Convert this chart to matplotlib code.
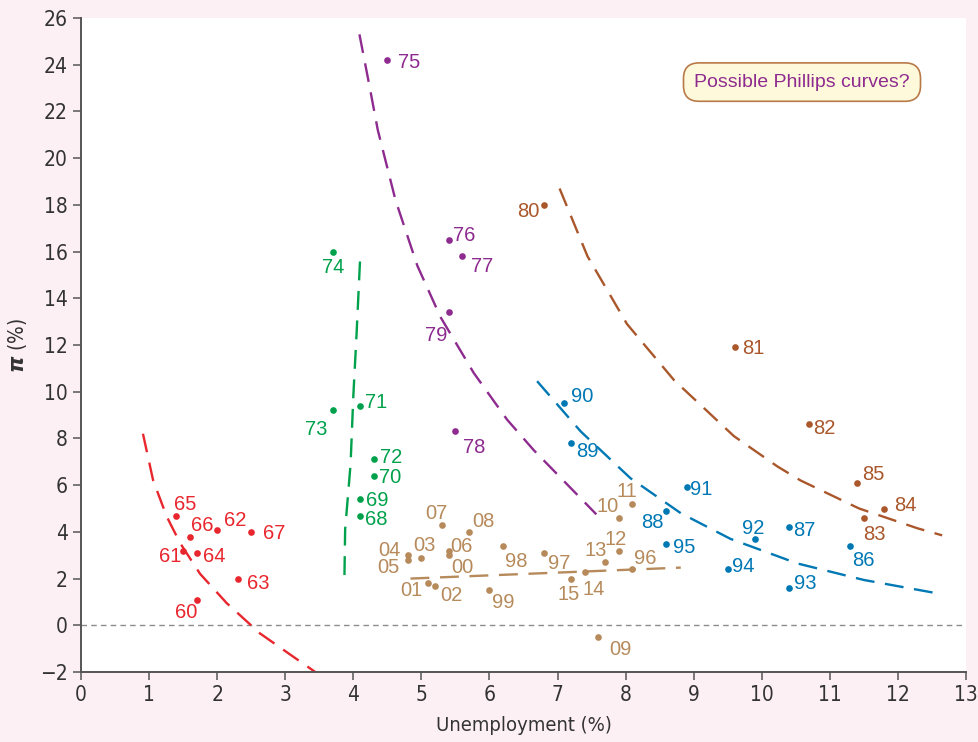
import matplotlib
matplotlib.use('Agg')
import matplotlib.pyplot as plt

# ---- data ----
yr60 = ['60', '61', '62', '63', '64', '65', '66', '67']
u60 = [1.7, 1.5, 2.0, 2.3, 1.7, 1.4, 1.6, 2.5]
p60 = [1.1, 3.2, 4.1, 2.0, 3.1, 4.7, 3.8, 4.0]

yr70 = ['68', '69', '70', '71', '72', '73', '74']
u70 = [4.1, 4.1, 4.3, 4.1, 4.3, 3.7, 3.7]
p70 = [4.7, 5.4, 6.4, 9.4, 7.1, 9.2, 16.0]

yr75 = ['75', '76', '77', '78', '79']
u75 = [4.5, 5.4, 5.6, 5.5, 5.4]
p75 = [24.2, 16.5, 15.8, 8.3, 13.4]

yr80 = ['80', '81', '82', '83', '84', '85']
u80 = [6.8, 9.6, 10.7, 11.5, 11.8, 11.4]
p80 = [18.0, 11.9, 8.6, 4.6, 5.0, 6.1]

yr86 = ['86', '87', '88', '89', '90', '91', '92', '93', '94', '95']
u86 = [11.3, 10.4, 8.6, 7.2, 7.1, 8.9, 9.9, 10.4, 9.5, 8.6]
p86 = [3.4, 4.2, 4.9, 7.8, 9.5, 5.9, 3.7, 1.6, 2.4, 3.5]

yr96 = ['96', '97', '98', '99', '00', '01', '02', '03', '04', '05',
        '06', '07', '08', '09', '10', '11', '12', '13', '14', '15']
u96 = [8.1, 6.8, 6.2, 6.0, 5.4, 5.1, 5.2, 5.0, 4.8, 4.8,
       5.4, 5.3, 5.7, 7.6, 7.9, 8.1, 7.9, 7.7, 7.4, 7.2]
p96 = [2.4, 3.1, 3.4, 1.5, 3.0, 1.8, 1.7, 2.9, 3.0, 2.8,
       3.2, 4.3, 4.0, -0.5, 4.6, 5.2, 3.2, 2.7, 2.3, 2.0]

# hand drawn "Phillips curves"
cu60 = [0.91, 1.0, 1.06, 1.26, 1.46, 1.75, 2.14, 2.63, 3.12, 3.54]
cp60 = [8.2, 7.0, 6.2, 4.65, 3.5, 2.2, 0.95, -0.35, -1.35, -2.2]
cu70 = [3.87, 3.88, 3.96, 4.0, 4.05, 4.1]
cp70 = [2.15, 4.1, 6.9, 9.8, 12.6, 15.7]
cu75 = [4.09, 4.23, 4.36, 4.62, 4.94, 5.28, 5.77, 6.26, 6.65, 7.57]
cp75 = [25.3, 23.2, 21.2, 18.2, 15.4, 13.2, 10.8, 8.8, 7.5, 4.75]
cu80 = [7.03, 7.44, 8.02, 8.71, 9.59, 10.23, 10.57, 11.43, 12.29, 12.65]
cp80 = [18.7, 15.8, 12.9, 10.5, 8.1, 6.8, 6.2, 5.0, 4.15, 3.85]
cu86 = [6.70, 7.34, 8.07, 8.81, 9.54, 10.52, 11.50, 12.63]
cp86 = [10.45, 8.3, 6.3, 4.8, 3.7, 2.65, 1.94, 1.34]
cu96 = [4.84, 8.81]
cp96 = [2.0, 2.47]

# label offsets in pixels (right, down) from each dot
off60 = [(-11, 13), (-13, 6), (18, -9), (21, 5), (18, 4), (9, -11), (12, -11), (23, 2)]
off70 = [(16, 4), (17, 1), (16, 2), (16, -3), (17, -2), (-17, 19), (0, 16)]
off75 = [(22, 2), (16, -4), (20, 10), (19, 16), (-12, 23)]
off80 = [(-16, 7), (19, 1), (15, 4), (10, 17), (21, -3), (16, -8)]
off86 = [(13, 15), (15, 3), (-14, 12), (16, 8), (18, -7), (14, 2), (-2, -10), (16, -4), (16, -3), (18, 4)]
off96 = [(13, -11), (15, 11), (13, 16), (14, 12), (14, 12), (-17, 7), (16, 10), (3, -12), (-18, -5), (-19, 8),
         (13, -4), (-5, -11), (14, -10), (22, 13), (-11, -11), (-6, -12), (-3, -11), (-10, -12), (9, 18), (-3, 16)]

RED = '#e8262d'
GREEN = '#00a14b'
PURPLE = '#8e2b8f'
BROWN = '#a9572b'
BLUE = '#0078b4'
TAN = '#b68a5b'

groups = [
    (yr60, u60, p60, off60, cu60, cp60, RED),
    (yr70, u70, p70, off70, cu70, cp70, GREEN),
    (yr75, u75, p75, off75, cu75, cp75, PURPLE),
    (yr80, u80, p80, off80, cu80, cp80, BROWN),
    (yr86, u86, p86, off86, cu86, cp86, BLUE),
    (yr96, u96, p96, off96, cu96, cp96, TAN),
]

LBL = ['Liberation Sans', 'DejaVu Sans']

fig = plt.figure(figsize=(9.79, 7.42), dpi=100, facecolor='#fdf0f4')
ax = fig.add_axes([81/979, 1-672/742, (966-81)/979, (672-18)/742])
ax.set_facecolor('white')

ax.axhline(0, color='#8c8c8c', lw=1.0, dashes=(4, 3), zorder=1)

for yrs, xs, ys, offs, cx, cy, col in groups:
    ax.plot(cx, cy, color=col, lw=1.7, dashes=(8, 4.5), zorder=2,
            dash_joinstyle='round', dash_capstyle='butt')
    ax.plot(xs, ys, 'o', color=col, ms=4.8, mec='none', zorder=3)
    for lab, x, y, (dx, dy) in zip(yrs, xs, ys, offs):
        ax.annotate(lab, (x, y), xytext=(dx, -dy), textcoords='offset pixels',
                    ha='center', va='center', color=col, fontsize=14.5, family=LBL)

ax.set_xlim(0, 13)
ax.set_ylim(-2, 26)
ax.set_xticks(range(0, 14))
ax.set_yticks(range(-2, 27, 2))
ax.set_yticklabels(['\u22122'] + [str(v) for v in range(0, 27, 2)])
for s in ['top', 'right']:
    ax.spines[s].set_visible(False)
for s in ['left', 'bottom']:
    ax.spines[s].set_color('#555555')
    ax.spines[s].set_linewidth(1.4)
ax.tick_params(direction='out', length=6, width=1.1, color='#555555',
               labelsize=15, labelcolor='#333333')
for t in ax.get_xticklabels() + ax.get_yticklabels():
    t.set_family('DejaVu Sans')
    t.set_fontstretch('condensed')

ax.set_xlabel('Unemployment (%)', fontsize=14.5, color='#333333', family='DejaVu Sans',
              fontstretch='condensed', labelpad=8)
ax.set_ylabel(r'$\boldsymbol{\pi}$ (%)', fontsize=15, color='#333333', family='DejaVu Sans',
              fontstretch='condensed', labelpad=8)

ax.text(0.8147, 0.902, 'Possible Phillips curves?', transform=ax.transAxes,
        ha='center', va='center', fontsize=14, color=PURPLE, family=LBL,
        bbox=dict(boxstyle='round,pad=0.55,rounding_size=0.8', fc='#fff9dc', ec='#b87a48', lw=1.2))

fig.savefig('out.png', dpi=100, facecolor=fig.get_facecolor())
